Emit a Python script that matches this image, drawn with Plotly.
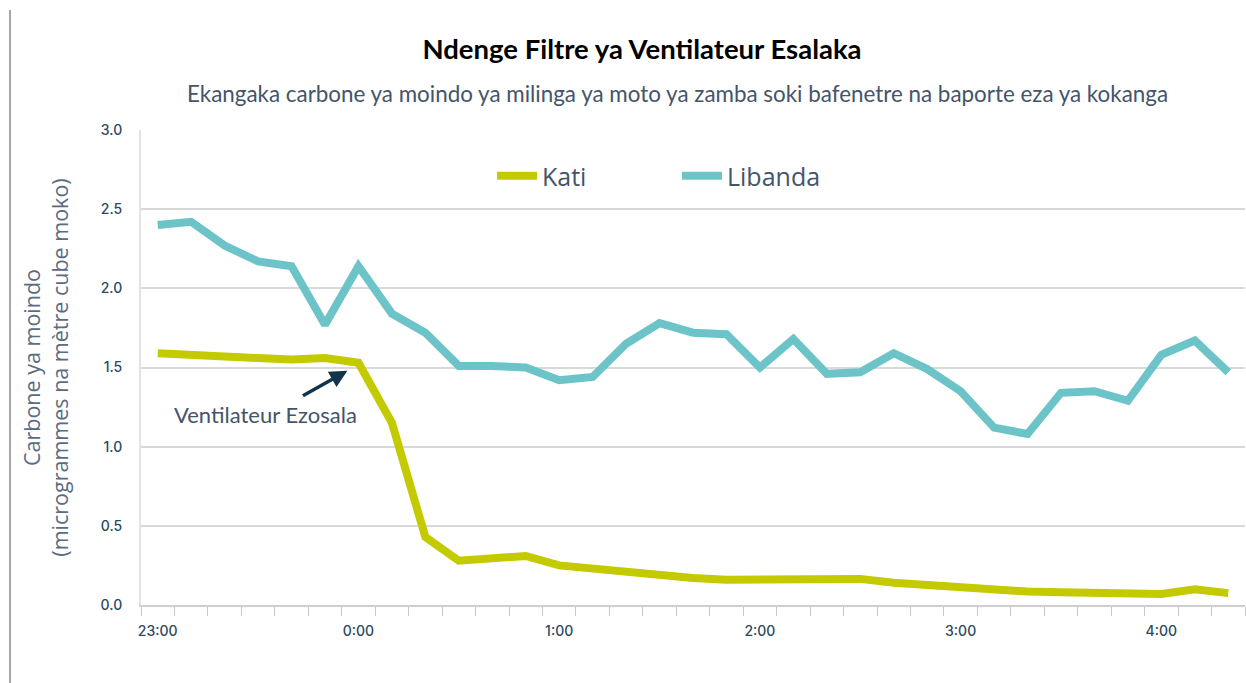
import plotly.graph_objects as go

times = ["23:00", "23:10", "23:20", "23:30", "23:40", "23:50",
         "0:00", "0:10", "0:20", "0:30", "0:40", "0:50",
         "1:00", "1:10", "1:20", "1:30", "1:40", "1:50",
         "2:00", "2:10", "2:20", "2:30", "2:40", "2:50",
         "3:00", "3:10", "3:20", "3:30", "3:40", "3:50",
         "4:00", "4:10", "4:20"]
hour_labels = ["23:00", "0:00", "1:00", "2:00", "3:00", "4:00"]

kati = [1.59, 1.585, 1.57, 1.56, 1.55, 1.56, 1.53, 1.15, 0.43, 0.28, 0.29, 0.31,
        0.25, 0.23, 0.20, 0.18, 0.17, 0.16, 0.16, 0.17, 0.17, 0.165, 0.14, 0.125,
        0.105, 0.095, 0.085, 0.08, 0.075, 0.07, 0.07, 0.10, 0.075]
libanda = [2.40, 2.42, 2.27, 2.17, 2.14, 1.77, 2.14, 1.84, 1.72, 1.51, 1.51, 1.50,
           1.42, 1.44, 1.65, 1.78, 1.72, 1.71, 1.50, 1.68, 1.46, 1.47, 1.59, 1.49,
           1.35, 1.12, 1.08, 1.34, 1.35, 1.29, 1.58, 1.67, 1.47]

TXT = "#44546a"
TICK = "#2b4a60"

fig = go.Figure()
fig.add_trace(go.Scatter(x=times, y=kati, name="Kati", mode="lines",
                         line=dict(color="#c3cb00", width=8)))
fig.add_trace(go.Scatter(x=times, y=libanda, name="Libanda", mode="lines",
                         line=dict(color="#6cc4c8", width=8)))

ticktext = [t if t in hour_labels else "" for t in times]

fig.update_layout(
    width=1246, height=683,
    margin=dict(l=141, r=1, t=130, b=78),
    paper_bgcolor="white", plot_bgcolor="white",
    showlegend=True,
    legend=dict(orientation="h", x=(492 - 141) / 1104, y=(605 - 176) / 475,
                xanchor="left", yanchor="middle",
                font=dict(family="Open Sans", size=25, color=TXT),
                bgcolor="rgba(0,0,0,0)", itemwidth=40, tracegroupgap=0,
                entrywidthmode="pixels", entrywidth=130),
    title=dict(text="<b>Ndenge Filtre ya Ventilateur Esalaka</b>",
               x=642 / 1246, xanchor="center", xref="container",
               y=1 - 49 / 683, yanchor="middle", yref="container",
               font=dict(family="Lato", size=27.5, color="#000000")),
    xaxis=dict(type="category", tickmode="array", tickvals=times, ticktext=ticktext,
               tickangle=0, tickson="boundaries", ticks="outside", ticklen=9,
               tickcolor="#c8c8c8", ticklabelstandoff=12,
               showline=True, linecolor="#cfcfcf", linewidth=1.5, showgrid=False,
               tickfont=dict(family="Inter", size=14, color=TICK, weight=500),
               range=[-0.5, 32.5], zeroline=False),
    yaxis=dict(range=[0, 3.0], dtick=0.5, tickformat=".1f",
               showgrid=True, gridcolor="#d9d9d9", gridwidth=1.5,
               showline=True, linecolor="#e3e3e3", linewidth=2, zeroline=False,
               ticks="", ticklabelstandoff=14,
               tickfont=dict(family="Inter", size=14, color=TICK, weight=500),
               title=dict(text="Carbone ya moindo<br>(microgrammes na mètre cube moko)",
                          font=dict(family="Open Sans", size=21.5, color="#5b6b80"),
                          standoff=26)),
)

fig.add_annotation(text="Ekangaka carbone ya moindo ya milinga ya moto ya zamba soki bafenetre na baporte eza ya kokanga",
                   xref="paper", yref="paper", x=(677 - 141) / 1104, y=(605 - 93) / 475,
                   xanchor="center", yanchor="middle", showarrow=False,
                   font=dict(family="Lato", size=22.4, color=TXT))

fig.add_annotation(x=5.67, y=1.48, xref="x", yref="y", ax=-46, ay=26,
                   showarrow=True, arrowhead=2, arrowsize=1, arrowwidth=3.5,
                   arrowcolor="#12344d", text="")
fig.add_annotation(x=3.21, y=1.206, xref="x", yref="y", text="Ventilateur Ezosala",
                   showarrow=False, xanchor="center", yanchor="middle",
                   font=dict(family="Lato", size=22, color=TXT))

fig.add_shape(type="line", xref="paper", yref="paper",
              x0=(10 - 141) / 1104, x1=(10 - 141) / 1104,
              y0=(605 - 683) / 475, y1=(605 - 10) / 475,
              line=dict(color="#8a8a8a", width=1.5))

fig.write_html("out.html", config={"displayModeBar": False},
               post_script="document.body.style.margin='0px';")
